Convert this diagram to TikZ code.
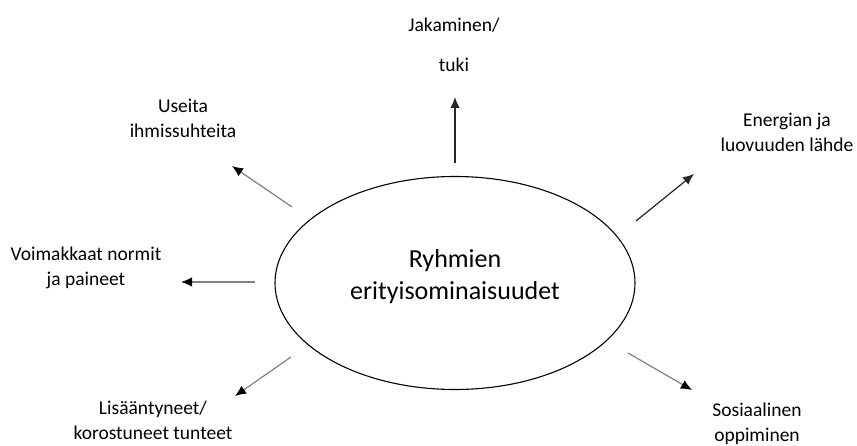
\documentclass[tikz,border=0pt]{standalone}
\usepackage{fontspec}
\setmainfont{Carlito}
\usetikzlibrary{arrows.meta, shapes.geometric, positioning}
\tikzset{
    trait/.style={align=center, inner sep=0pt, font=\fontsize{19.5}{25}\selectfont},
    core/.style={ellipse, draw, line width=1.1pt, minimum width=360pt, minimum height=213pt},
    coreText/.style={align=center, inner sep=0pt, font=\fontsize{26}{32}\selectfont},
    darkEdge/.style={-{Latex[length=11pt, width=9.5pt]}, line width=1.2pt, black!85},
    grayEdge/.style={-{Latex[length=11pt, width=9.5pt, color=black]}, line width=1.2pt, black!50},
}
\newcommand{\drawTrait}[3][darkEdge]{
    \draw[#1] (#2) -- (#3);
}
\begin{document}
\begin{tikzpicture}[x=1pt, y=-1pt]
    \useasboundingbox (0,0) rectangle (857,446);

        \node[core] (R) at (455, 283) {};
        \node[coreText] (RT) at (455, 277) {Ryhmien\\erityisominaisuudet};

        \node[trait, font=\fontsize{19.5}{40}\selectfont] (J) at (454, 45) {Jakaminen/\\tuki};
        \node[trait] (U) at (183, 118) {Useita\\ihmissuhteita};
        \node[trait] (E) at (787, 132) {Energian ja\\luovuuden lähde};
        \node[trait] (V) at (86, 268) {Voimakkaat normit\\ja paineet};
        \node[trait] (L) at (153, 420) {Lisääntyneet/\\korostuneet tunteet};
        \node[trait] (S) at (757, 424) {Sosiaalinen\\oppiminen};

        % alku- ja loppupisteet
        \coordinate (j0) at (455, 163);  \coordinate (j1) at (455, 97);
        \coordinate (u0) at (292, 207);  \coordinate (u1) at (232, 166);
        \coordinate (e0) at (636, 221);  \coordinate (e1) at (694, 174);
        \coordinate (v0) at (255, 282);  \coordinate (v1) at (181, 282);
        \coordinate (l0) at (291, 357);  \coordinate (l1) at (235, 396);
        \coordinate (s0) at (628, 353);  \coordinate (s1) at (692, 390);

        \drawTrait{j0}{j1}
        \drawTrait[grayEdge]{u0}{u1}
        \drawTrait{e0}{e1}
        \drawTrait[grayEdge]{v0}{v1}
        \drawTrait[grayEdge]{l0}{l1}
        \drawTrait[grayEdge]{s0}{s1}

    \end{tikzpicture}
\end{document}
